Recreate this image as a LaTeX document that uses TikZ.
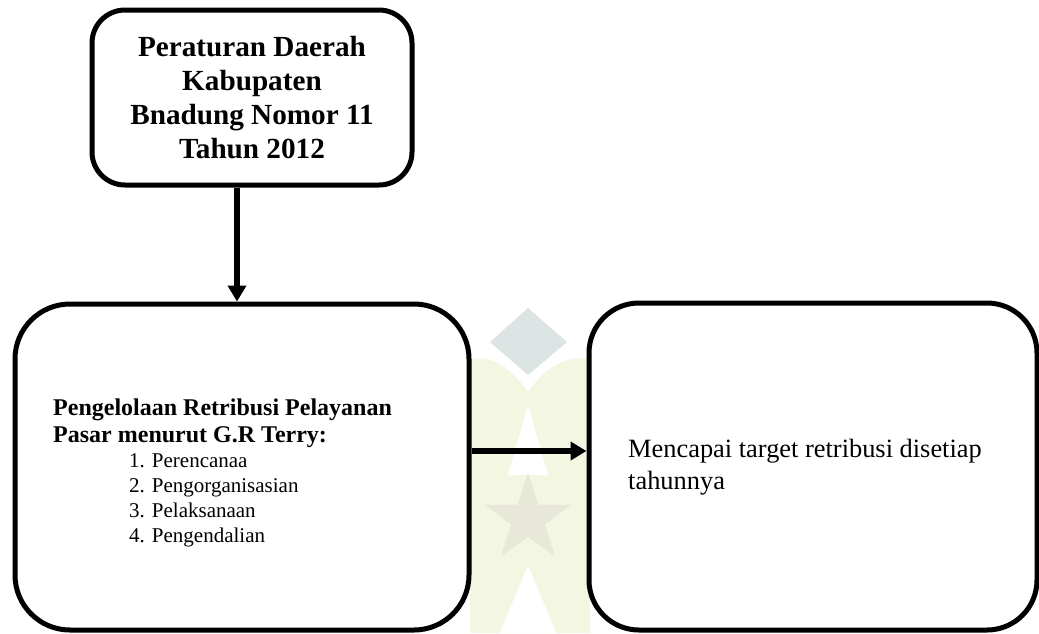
\documentclass[tikz,border=0pt]{standalone}
\usepackage{fontspec}
\setmainfont{Liberation Serif}
\usetikzlibrary{arrows.meta,shapes.geometric}
\definecolor{wmgrey}{HTML}{DCE4E4}
\definecolor{wmgreen}{HTML}{F3F7E2}
\definecolor{wmstar}{HTML}{E8E8D8}
\tikzset{
  panel/.style={draw=black, line width=5pt, fill=white, rectangle, inner sep=0pt},
  arr/.style={-{Triangle[width=18pt,length=16pt]}, line width=6pt},
  txt/.style={anchor=base west, inner sep=0pt},
  listitem/.style={txt, font=\fontsize{21}{25}\selectfont},
}
\begin{document}
\begin{tikzpicture}[x=1pt,y=-1pt]
  \useasboundingbox (0,0) rectangle (1039,633);
%%
  % Watermark
  \fill[wmgreen] (470,633) -- (470,360) .. controls (490,352) and (515,372) .. (528,392)
    .. controls (541,372) and (566,352) .. (590,360) -- (590,633) -- cycle;
  \fill[white] (528,405) -- (508,475) -- (548,475) -- cycle;
  \fill[white] (528,565) -- (500,633) -- (556,633) -- cycle;
  \fill[wmgrey] (528,308) -- (567,342) -- (528,375) -- (490,342) -- cycle;
  \node[star, star points=5, star point ratio=2.6, minimum size=92pt, inner sep=0pt, fill=wmstar] (wmlogo) at (528,519) {};
  % Node: Perda
  \node[panel, rounded corners=33pt, minimum width=320pt, minimum height=175pt, align=center,
        font=\fontsize{29.2}{33.7}\selectfont\bfseries] (perda) at (252,97.5)
        {Peraturan Daerah\\Kabupaten\\Bnadung Nomor 11\\Tahun 2012};
  % Node: Pengelolaan
  \node[panel, rounded corners=55pt, minimum width=454pt, minimum height=326pt] (kelola) at (242,467) {};
  \node[txt, font=\fontsize{24}{27}\selectfont\bfseries] (kelola1) at (53,415) {Pengelolaan Retribusi Pelayanan};
  \node[txt, font=\fontsize{24}{27}\selectfont\bfseries] (kelola2) at (53,442) {Pasar menurut G.R Terry:};
  \foreach \fungsi [count=\i] in {Perencanaa, Pengorganisasian, Pelaksanaan, Pengendalian}
    \node[listitem] (fungsi\i) at (129,442+25*\i) {\i. \fungsi};
  % Node: Target
  \node[panel, rounded corners=50pt, minimum width=448pt, minimum height=327pt] (target) at (813,466.5) {};
  \node[txt, font=\fontsize{26.4}{32}\selectfont] (target1) at (628,457) {Mencapai target retribusi disetiap};
  \node[txt, font=\fontsize{26.4}{32}\selectfont] (target2) at (628,489) {tahunnya};
  % Edge: Perda -> Pengelolaan
  \coordinate (down) at ([xshift=-15pt]perda.south);
  \draw[arr] (down) -- (down |- kelola.north);
  % Edge: Pengelolaan -> Target
  \coordinate (right) at ([yshift=16pt]kelola.east);
  \draw[arr] (right) -- (right -| target.west);
%
\end{tikzpicture}
\end{document}
